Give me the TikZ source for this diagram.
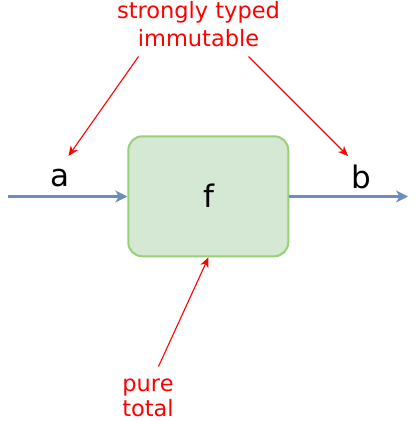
\documentclass[tikz,border=0pt]{standalone}
\usepackage{fontspec}
\setmainfont{DejaVu Sans}
\usetikzlibrary{arrows.meta}
\definecolor{boxfill}{HTML}{D5E8D4}
\definecolor{boxline}{HTML}{97D077}
\definecolor{flowblue}{HTML}{6C8EBF}
\definecolor{notered}{HTML}{FF0000}
\tikzset{
  funcbox/.style={draw=boxline, fill=boxfill, line width=2pt, rounded corners=14pt, minimum width=160pt, minimum height=120pt, inner sep=0pt},
  flowarrow/.style={draw=flowblue, line width=2.2pt, -{Stealth[length=12pt,width=12pt,inset=3.5pt]}},
  notearrow/.style={draw=notered, line width=1.1pt, -{Stealth[length=10pt,width=8.5pt,inset=3pt]}},
  bigtext/.style={font=\fontsize{31}{37}\selectfont, text=black, inner sep=0pt, anchor=base},
  notetext/.style={font=\fontsize{22.5}{27}\selectfont, text=notered, inner sep=0pt, anchor=base},
}
\begin{document}
\begin{tikzpicture}[x=1pt, y=-1pt]
\useasboundingbox (0,0) rectangle (417,422);
% function box
\node[funcbox] (f) at (208.3,196.3) {};
\node[bigtext] (flabel) at (208.5,207.5) {f};
% input / output
\coordinate (inStart) at (8,196.5);
\coordinate (outEnd) at (408,196.5);
\draw[flowarrow] (inStart) -- (f.west |- inStart);
\draw[flowarrow] (f.east |- outEnd) -- (outEnd);
\node[bigtext] (alabel) at (59.5,186.5) {a};
\node[bigtext] (blabel) at (361,188) {b};
% top annotation
\node[notetext] (top1) at (198.5,18.5) {strongly typed};
\node[notetext] (top2) at (198.5,46.5) {immutable};
\coordinate (topL) at (138.5,56.5);
\coordinate (topR) at (248.5,56.5);
\coordinate (aTip) at (68.5,156);
\coordinate (bTip) at (348,156);
\draw[notearrow] (topL) -- (aTip);
\draw[notearrow] (topR) -- (bTip);
% bottom annotation
\node[notetext] (bot1) at (148,391.5) {pure};
\node[notetext] (bot2) at (148,416.5) {total};
\coordinate (botS) at (158.5,366.5);
\draw[notearrow] (botS) -- (f.south -| 208.5,0);
\end{tikzpicture}
\end{document}
